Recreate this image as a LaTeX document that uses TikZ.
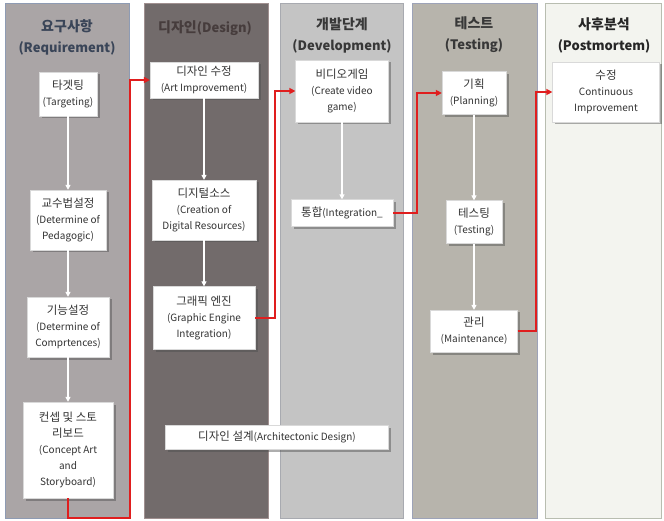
\documentclass[tikz,border=0pt]{standalone}
\usepackage{fontspec}
\setmainfont{Noto Sans CJK KR}
\usetikzlibrary{shadows,arrows.meta}
\definecolor{pA}{HTML}{AAA5A6}
\definecolor{pAb}{HTML}{8E9BB3}
\definecolor{pB}{HTML}{726B6B}
\definecolor{pBb}{HTML}{A09090}
\definecolor{pC}{HTML}{C4C4C4}
\definecolor{pCb}{HTML}{A8AAB0}
\definecolor{pD}{HTML}{B7B4AC}
\definecolor{pDb}{HTML}{9DA3B8}
\definecolor{pE}{HTML}{F3F4EF}
\definecolor{pEb}{HTML}{B8BDB0}
\definecolor{hA}{HTML}{3A4558}
\definecolor{hB}{HTML}{463C3C}
\definecolor{hC}{HTML}{383838}
\definecolor{boxtxt}{HTML}{333333}
\definecolor{redc}{HTML}{E01E1E}
\newcommand{\kor}[1]{{\fontsize{11.5}{16}\selectfont #1}}
\begin{document}
\begin{tikzpicture}[x=1pt,y=-1pt,
  panel/.style={line width=0.8pt},
  head/.style={font=\fontsize{13}{21}\selectfont\bfseries, align=center, inner sep=0pt},
  stepbox/.style={fill=white, draw=black!15, line width=0.3pt, text=boxtxt, align=center,
    font=\fontsize{10}{16}\selectfont, inner sep=1pt,
    drop shadow={shadow xshift=2.5pt, shadow yshift=-2.5pt, opacity=0.45, fill=black!70}},
  warrow/.style={draw=white, line width=1.3pt, -{Triangle[length=5pt,width=5pt]}},
  rarrow/.style={draw=redc, line width=1.8pt, -{Triangle[length=6pt,width=6pt]}}
]
\useasboundingbox (0,0) rectangle (664,521);
\fill[white] (0,0) rectangle (664,521);
% panels
\filldraw[panel, fill=pA, draw=pAb] (5,3) rectangle (129,518);
\filldraw[panel, fill=pB, draw=pBb] (144,3) rectangle (268,518);
\filldraw[panel, fill=pC, draw=pCb] (280,3) rectangle (403,518);
\filldraw[panel, fill=pD, draw=pDb] (412,3) rectangle (537,518);
\filldraw[panel, fill=pE, draw=pEb] (545,3) rectangle (661,518);
% headings
\node[head, text=hA] (h1) at (67,37) {\fontsize{14}{21}\selectfont 요구사항\\(Requirement)};
\node[head, text=hB] (h2) at (205,28) {{\fontsize{14}{21}\selectfont 디자인}(Design)};
\node[head, text=hC] (h3) at (342,35) {\fontsize{14}{21}\selectfont 개발단계\\(Development)};
\node[head, text=hC] (h4) at (474,35) {\fontsize{14}{21}\selectfont 테스트\\(Testing)};
\node[head, text=black!85] (h5) at (604,35) {\fontsize{14}{21}\selectfont 사후분석\\(Postmortem)};
% column 1
\node[stepbox, minimum width=58pt, minimum height=44pt] (tgt) at (68,94) {\kor{타겟팅}\\(Targeting)};
\node[stepbox, minimum width=76pt, minimum height=60pt] (ped) at (68,220) {\kor{교수법설정}\\(Determine of\\Pedagogic)};
\node[stepbox, minimum width=82pt, minimum height=60pt] (comp) at (68,327) {\kor{기능설정}\\(Determine of\\Comprtences)};
\node[stepbox, minimum width=90pt, minimum height=96pt] (story) at (68,450) {\kor{컨셉 및 스토}\\\kor{리보드}\\(Concept Art\\and\\Storyboard)};
% column 2
\node[stepbox, minimum width=108pt, minimum height=36pt] (art) at (204,80) {\kor{디자인 수정}\\(Art Improvement)};
\node[stepbox, minimum width=104pt, minimum height=60pt] (digi) at (204,210) {\kor{디지털소스}\\(Creation of\\Digital Resources)};
\node[stepbox, minimum width=102pt, minimum height=63pt] (gfx) at (204,318) {\kor{그래픽 엔진}\\(Graphic Engine\\Integration)};
% column 3
\node[stepbox, minimum width=93pt, minimum height=62pt] (video) at (342,91) {\kor{비디오게임}\\(Create video\\game)};
\node[stepbox, minimum width=102pt, minimum height=27pt] (integ) at (342,213) {\kor{통합}(Integration\_};
% column 4
\node[stepbox, minimum width=64pt, minimum height=43pt] (plan) at (474,93) {\kor{기획}\\(Planning)};
\node[stepbox, minimum width=56pt, minimum height=43pt] (test) at (474,222) {\kor{테스팅}\\(Testing)};
\node[stepbox, minimum width=87pt, minimum height=42pt] (maint) at (474,331) {\kor{관리}\\(Maintenance)};
% column 5
\node[stepbox, minimum width=107pt, minimum height=60pt] (ci) at (606,92) {\kor{수정}\\Continuous\\Improvement};
% spanning box
\node[stepbox, minimum width=223pt, minimum height=24pt] (arch) at (277,437) {\kor{디자인 설계}(Architectonic Design)};
% white arrows
\draw[warrow] (tgt) -- (ped);
\draw[warrow] (ped) -- (comp);
\draw[warrow] (comp) -- (story);
\draw[warrow] (art) -- (digi);
\draw[warrow] (digi) -- (gfx);
\draw[warrow] (video) -- (integ);
\draw[warrow] (plan) -- (test);
\draw[warrow] (test) -- (maint);
% red connectors
\coordinate (c1) at (130,518);
\coordinate (c2) at (275,318);
\coordinate (c3) at (417,213);
\coordinate (c4) at (536,331);
\draw[rarrow] (story.south) |- (c1) |- (art.west);
\draw[rarrow] (gfx.east) -- (gfx.east -| c2) |- (video.west);
\draw[rarrow] (integ.east) -- (integ.east -| c3) |- (plan.west);
\draw[rarrow] (maint.east) -- (maint.east -| c4) |- (ci.west);
\end{tikzpicture}
\end{document}
